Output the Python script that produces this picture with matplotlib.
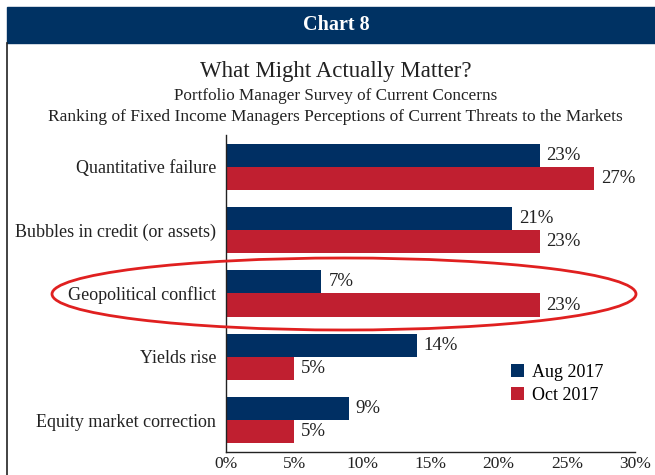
import matplotlib.pyplot as plt
from matplotlib.patches import Rectangle, Ellipse
from matplotlib.lines import Line2D
import numpy as np

categories = ["Quantitative failure", "Bubbles in credit (or assets)",
              "Geopolitical conflict", "Yields rise", "Equity market correction"]
aug_2017 = [23, 21, 7, 14, 9]
oct_2017 = [27, 23, 23, 5, 5]
series_names = ["Aug 2017", "Oct 2017"]
x_ticks = [0, 5, 10, 15, 20, 25, 30]

navy = "#002f63"
red = "#c01f30"
plt.rcParams['font.family'] = ['Liberation Serif', 'DejaVu Serif']

W, H = 655, 475
fig = plt.figure(figsize=(W / 100, H / 100), dpi=100)

# header band and left border
fig.patches.append(Rectangle((7 / W, 1 - 43 / H), 648 / W, 36 / H,
                             transform=fig.transFigure, color="#003263", zorder=0))
fig.lines.append(Line2D([7 / W, 7 / W], [0, 1 - 43 / H], transform=fig.transFigure,
                        color="#222222", lw=1.2))
fig.text(336 / W, 1 - 25 / H, "Chart 8", color="white", fontsize=14.5, fontweight="bold",
         ha="center", va="center")
fig.text(336 / W, 1 - 71 / H, "What Might Actually Matter?", fontsize=16.5,
         ha="center", va="center", color="#222222")
fig.text(336 / W, 1 - 96 / H, "Portfolio Manager Survey of Current Concerns", fontsize=12.3,
         ha="center", va="center", color="#222222")
fig.text(335 / W, 1 - 117 / H,
         "Ranking of Fixed Income Managers Perceptions of Current Threats to the Markets",
         fontsize=12.5, ha="center", va="center", color="#222222")

ax = fig.add_axes([226 / W, 23 / H, 409 / W, 317 / H])
pos = np.arange(len(categories))[::-1]
h = 0.364
ax.barh(pos + h / 2, aug_2017, height=h, color=navy, label=series_names[0])
ax.barh(pos - h / 2, oct_2017, height=h, color=red, label=series_names[1])
for p, a, o in zip(pos, aug_2017, oct_2017):
    ax.text(a + 0.5, p + h / 2, f"{a}%", va="center", ha="left", fontsize=13.5, color="#222222")
    ax.text(o + 0.5, p - h / 2, f"{o}%", va="center", ha="left", fontsize=13.5, color="#222222")

ax.set_xlim(0, 30)
ax.set_ylim(-0.5, 4.5)
ax.set_xticks(x_ticks)
ax.set_xticklabels([f"{t}%" for t in x_ticks], fontsize=12.5, color="#222222")
ax.set_yticks(pos)
ax.set_yticklabels(categories, fontsize=13, color="#222222")
ax.tick_params(axis="y", length=0, pad=7)
ax.tick_params(axis="x", length=0, pad=3)
for s in ["top", "right"]:
    ax.spines[s].set_visible(False)
for s in ["left", "bottom"]:
    ax.spines[s].set_color("#222222")
    ax.spines[s].set_linewidth(1.0)

leg = ax.legend(loc="upper left", bbox_to_anchor=(0.68, 0.3), frameon=False,
                fontsize=13, handlelength=0.72, handleheight=0.72,
                handletextpad=0.4, labelspacing=0.3, borderaxespad=0)

# highlight ellipse
fig.patches.append(Ellipse((344 / W, 1 - 294 / H), 584 / W, 72 / H,
                           transform=fig.transFigure, fill=False, edgecolor="#e02020",
                           lw=2, zorder=5))

fig.savefig("out.png", dpi=100)
